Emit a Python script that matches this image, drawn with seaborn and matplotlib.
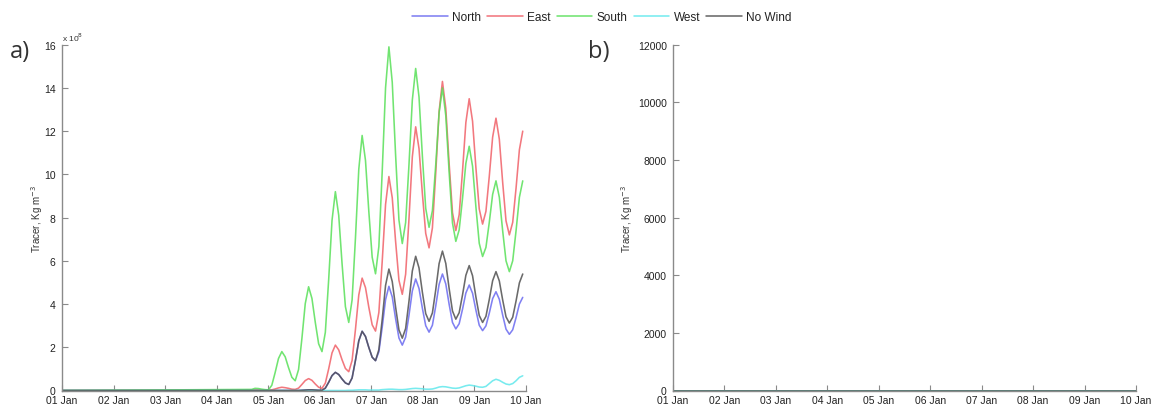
import numpy as np
import pandas as pd
import matplotlib
matplotlib.use("Agg")
import matplotlib.pyplot as plt
import seaborn as sns

# ---------------- data (values in units of 1e8 kg m^-3) ----------------
DAY_LABELS = ["01 Jan", "02 Jan", "03 Jan", "04 Jan", "05 Jan",
              "06 Jan", "07 Jan", "08 Jan", "09 Jan", "10 Jan"]
SERIES = ["North", "East", "South", "West", "No Wind"]
COLORS = ["#6a6af0", "#f06068", "#58e058", "#60e8ec", "#505050"]

# sampling times (days since 01 Jan 00:00), roughly every 1.56 h, after a quiet start
START_DAY = 0.0
times = 4.264 + np.arange(-9, 73) * 0.0649

south = [0.05, 0.10, 0.09, 0.06, 0.04, 0.03, 0.24, 0.83, 1.48, 1.80, 1.56, 1.06, 0.61,
         0.45, 0.97, 2.41, 4.02, 4.80, 4.26, 3.15, 2.16, 1.80, 2.69, 5.13, 7.87,
         9.20, 8.11, 5.87, 3.88, 3.15, 4.19, 7.04, 10.24, 11.80, 10.65, 8.28, 6.17,
         5.40, 6.66, 10.13, 14.01, 15.90, 14.26, 10.90, 7.89, 6.80, 7.77, 10.45, 13.44,
         14.90, 13.58, 10.86, 8.43, 7.55, 8.32, 10.45, 12.84, 14.00, 12.72, 10.10, 7.75,
         6.90, 7.43, 8.88, 10.51, 11.30, 10.38, 8.50, 6.81, 6.20, 6.62, 7.78, 9.07,
         9.70, 8.94, 7.39, 6.00, 5.50, 6.00, 7.39, 8.94, 9.70]
east = [0.01, 0.02, 0.02, 0.01, 0.01, 0.01, 0.03, 0.07, 0.12, 0.15, 0.13, 0.10, 0.06,
        0.05, 0.11, 0.28, 0.46, 0.55, 0.47, 0.30, 0.15, 0.10, 0.34, 1.00, 1.74,
        2.10, 1.88, 1.42, 1.02, 0.87, 1.39, 2.82, 4.42, 5.20, 4.76, 3.85, 3.04,
        2.75, 3.61, 5.97, 8.61, 9.90, 8.92, 6.90, 5.10, 4.45, 5.38, 7.94, 10.81,
        12.20, 11.19, 9.12, 7.27, 6.60, 7.52, 10.07, 12.91, 14.30, 13.06, 10.51, 8.23,
        7.40, 8.13, 10.15, 12.40, 13.50, 12.46, 10.31, 8.40, 7.70, 8.29, 9.91, 11.72,
        12.60, 11.63, 9.63, 7.85, 7.20, 7.78, 9.36, 11.14, 12.00]
no_wind = [0.00, 0.00, 0.00, 0.00, 0.00, 0.00, 0.00, 0.00, 0.00, 0.00, 0.00, 0.00, 0.00,
           0.00, 0.00, 0.01, 0.02, 0.03, 0.03, 0.02, 0.01, 0.01, 0.11, 0.38, 0.69,
           0.84, 0.74, 0.53, 0.35, 0.28, 0.58, 1.39, 2.30, 2.74, 2.50, 1.99, 1.54,
           1.38, 1.89, 3.29, 4.86, 5.62, 5.04, 3.86, 2.80, 2.42, 2.87, 4.13, 5.53,
           6.21, 5.67, 4.55, 3.56, 3.20, 3.59, 4.66, 5.87, 6.45, 5.88, 4.72, 3.68,
           3.30, 3.60, 4.42, 5.33, 5.78, 5.31, 4.33, 3.47, 3.15, 3.43, 4.21, 5.08,
           5.50, 5.07, 4.19, 3.41, 3.12, 3.39, 4.14, 4.98, 5.39]
north = [0.00, 0.00, 0.00, 0.00, 0.00, 0.00, 0.00, 0.00, 0.00, 0.00, 0.00, 0.00, 0.00,
         0.00, 0.00, 0.01, 0.02, 0.03, 0.03, 0.02, 0.01, 0.01, 0.11, 0.38, 0.69,
         0.84, 0.74, 0.53, 0.35, 0.28, 0.58, 1.39, 2.30, 2.74, 2.50, 1.99, 1.54,
         1.38, 1.79, 2.93, 4.20, 4.82, 4.33, 3.32, 2.43, 2.10, 2.47, 3.48, 4.61,
         5.16, 4.72, 3.81, 3.00, 2.70, 3.02, 3.91, 4.91, 5.39, 4.93, 3.99, 3.15,
         2.85, 3.09, 3.76, 4.51, 4.88, 4.50, 3.72, 3.02, 2.77, 2.99, 3.58, 4.25,
         4.57, 4.22, 3.49, 2.84, 2.60, 2.81, 3.37, 4.00, 4.31]
west = [0.00, 0.00, 0.00, 0.00, 0.00, 0.00, 0.00, 0.00, 0.00, 0.00, 0.00, 0.00, 0.00,
        0.00, 0.00, 0.00, 0.00, 0.00, 0.00, 0.00, 0.00, 0.00, 0.00, 0.00, 0.00,
        0.00, 0.00, 0.00, 0.00, 0.01, 0.01, 0.02, 0.03, 0.03, 0.03, 0.02, 0.02,
        0.02, 0.02, 0.04, 0.05, 0.06, 0.06, 0.05, 0.04, 0.04, 0.05, 0.07, 0.09,
        0.10, 0.09, 0.08, 0.06, 0.06, 0.07, 0.11, 0.16, 0.18, 0.17, 0.14, 0.11,
        0.10, 0.12, 0.17, 0.22, 0.25, 0.23, 0.20, 0.16, 0.15, 0.19, 0.32, 0.45,
        0.52, 0.47, 0.38, 0.30, 0.27, 0.32, 0.45, 0.61, 0.68]

# panel b: concentrations stay at zero over the whole period
b_times = [0.0, 9.0]
b_values = [0.0, 0.0]

A_YTICKS = [0, 2, 4, 6, 8, 10, 12, 14, 16]
B_YTICKS = [0, 2000, 4000, 6000, 8000, 10000, 12000]

# ---------------- styling ----------------
sns.set_theme(style="white")
plt.rcParams["font.family"] = ["Liberation Sans", "DejaVu Sans"]
plt.rcParams["lines.solid_joinstyle"] = "round"

W, H = 1161, 406
fig = plt.figure(figsize=(W / 100, H / 100), dpi=100)
axA = fig.add_axes([62 / W, 1 - 391.5 / H, 464 / W, 345.8 / H])
axB = fig.add_axes([673 / W, 1 - 391.5 / H, 463 / W, 345.8 / H])

series_vals = dict(zip(SERIES, [north, east, south, west, no_wind]))
rows = []
for name in SERIES:
    rows.append({"day": START_DAY, "value": 0.0, "series": name})
    for t, v in zip(times, series_vals[name]):
        rows.append({"day": float(t), "value": v, "series": name})
dfA = pd.DataFrame(rows)

rowsB = []
for name in SERIES:
    for t, v in zip(b_times, b_values):
        rowsB.append({"day": t, "value": v, "series": name})
dfB = pd.DataFrame(rowsB)

palette = dict(zip(SERIES, COLORS))
for ax, df in ((axA, dfA), (axB, dfB)):
    for name in SERIES:
        sub = df[df["series"] == name]
        sns.lineplot(data=sub, x="day", y="value", color=palette[name], label=name,
                     ax=ax, linewidth=1.15, alpha=0.85, sort=False, estimator=None)

handles, labels = axA.get_legend_handles_labels()
for ax in (axA, axB):
    if ax.get_legend() is not None:
        ax.get_legend().remove()

for ax, yt, ylab_x in ((axA, A_YTICKS, -0.036), (axB, B_YTICKS, -0.082)):
    ax.set_xlim(0, 9)
    ax.set_ylim(yt[0], yt[-1])
    ax.set_xticks(range(10))
    ax.set_xticklabels(DAY_LABELS)
    ax.set_yticks(yt)
    ax.set_yticklabels([str(v) for v in yt])
    ax.set_xlabel("")
    ax.set_ylabel("Tracer, Kg m$^{-3}$", fontsize=7, color="#333333")
    ax.yaxis.set_label_coords(ylab_x, 0.5)
    for s in ("top", "right"):
        ax.spines[s].set_visible(False)
    for s in ("left", "bottom"):
        ax.spines[s].set_color("#8a8a8a")
        ax.spines[s].set_linewidth(1.0)
    ax.tick_params(axis="both", direction="in", length=4, width=0.8, color="#8a8a8a",
                   labelsize=7.5, labelcolor="#222222", left=True, bottom=True)
    ax.tick_params(axis="y", pad=4.5)
    ax.tick_params(axis="x", pad=3.5)
    ax.set_facecolor("white")
    ax.grid(False)

axA.text(0.0, 1.005, "x 10$^8$", transform=axA.transAxes, fontsize=6,
         color="#333333", ha="left", va="bottom")

fig.text(10 / W, 1 - 52 / H, "a)", fontsize=17, color="#333333", ha="left",
         va="center", family=["Open Sans", "DejaVu Sans"])
fig.text(588 / W, 1 - 52 / H, "b)", fontsize=17, color="#333333", ha="left",
         va="center", family=["Open Sans", "DejaVu Sans"])

leg = fig.legend(handles, labels, loc="center", bbox_to_anchor=(602 / W, 1 - 18 / H),
                 ncol=5, frameon=False, fontsize=8.5, handlelength=3.0,
                 columnspacing=0.5, handletextpad=0.4)
for t in leg.get_texts():
    t.set_color("#222222")
for h in leg.legend_handles:
    h.set_alpha(0.85)

fig.savefig("out.png", dpi=100, facecolor="white")
